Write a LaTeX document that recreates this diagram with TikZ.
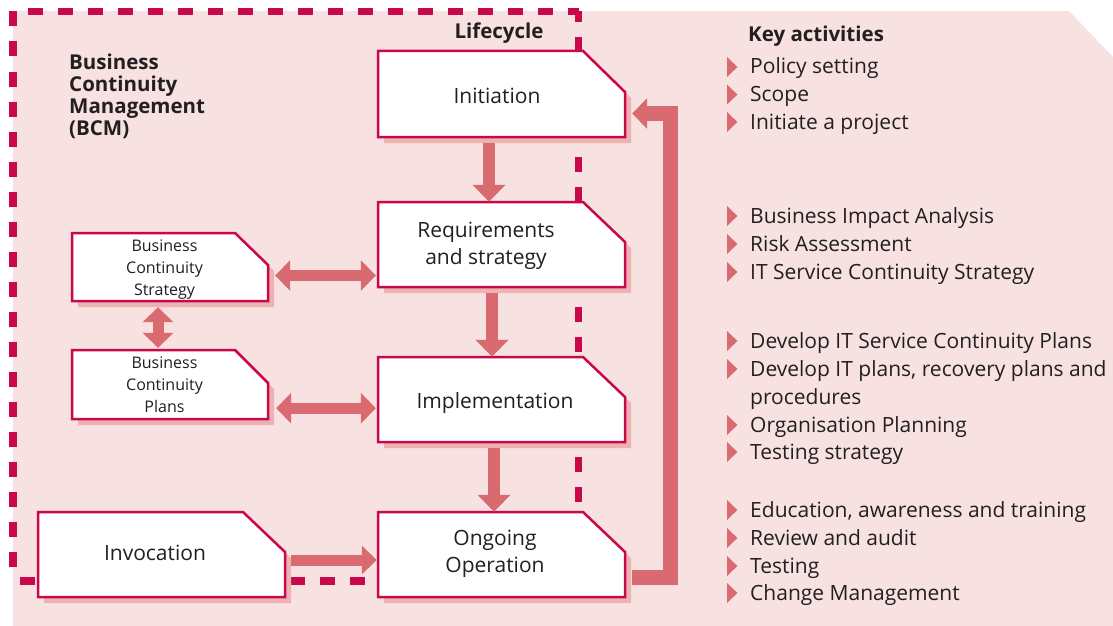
\documentclass[tikz,border=0pt]{standalone}
\usepackage{fontspec}
\setmainfont{Open Sans}
\usetikzlibrary{arrows.meta}
\definecolor{bgpink}{RGB}{247,225,225}
\definecolor{crim}{RGB}{200,8,74}
\definecolor{arrc}{RGB}{217,107,112}
\definecolor{shad}{RGB}{238,178,178}
\definecolor{txt}{RGB}{35,31,32}
\tikzset{
  boxline/.style={draw=crim, line width=2.5pt, fill=white, line join=miter},
  shadowfill/.style={fill=shad},
  boxnode/.style={inner sep=0pt, draw=none},
  bcmdash/.style={draw=crim, line width=7.5pt, dash pattern=on 15pt off 15pt},
  varrow/.style={draw=arrc, line width=12pt, -{Triangle[width=32pt,length=17pt]}},
  harrow/.style={draw=arrc, line width=11pt, {Triangle[width=30pt,length=15pt]}-{Triangle[width=30pt,length=15pt]}},
  iarrow/.style={draw=arrc, line width=11pt, -{Triangle[width=28pt,length=15pt]}},
  farrow/.style={draw=arrc, line width=15pt, line join=miter, -{Triangle[width=30pt,length=15pt]}},
  bigtext/.style={font=\fontsize{21}{27}\selectfont, text=txt, align=center, inner sep=0pt, anchor=base},
  smalltext/.style={font=\fontsize{16}{22}\selectfont, text=txt, align=center, inner sep=0pt, anchor=base},
  titletext/.style={font=\fontsize{20.5}{21.7}\selectfont\bfseries, text=txt, align=left, inner sep=0pt, anchor=base west},
  listtext/.style={font=\fontsize{21}{28}\selectfont, text=txt, inner sep=0pt, anchor=base west},
  bulletmark/.style={fill=arrc}
}
% #1 name, #2 x1, #3 y1, #4 x2, #5 y2, #6 corner dx, #7 corner dy
\newcommand\cutbox[7]{%
  \fill[shadowfill] (#2+6,#3+6) -- (#4-#6+6,#3+6) -- (#4+6,#3+#7+6) -- (#4+6,#5+6) -- (#2+6,#5+6) -- cycle;
  \path[boxline] (#2,#3) -- (#4-#6,#3) -- (#4,#3+#7) -- (#4,#5) -- (#2,#5) -- cycle;
  \node[boxnode, minimum width={#4-#2}, minimum height={#5-#3}] (#1) at ({(#2+#4)/2},{(#3+#5)/2}) {};
}
\newcommand\bitem[3]{%
  \fill[bulletmark] (727,#2-17) -- (730,#2-14) -- (737.5,#2-7) -- (730,#2) -- (727,#2+3) -- cycle;
  \node[listtext] (#1) at (750,#2) {#3};
}
\begin{document}
\begin{tikzpicture}[x=1pt, y=-1pt]
\useasboundingbox (0,0) rectangle (1113,626);
\fill[white] (0,0) rectangle (1113,626);
\fill[bgpink] (13,11) -- (1069,11) -- (1113,57) -- (1113,626) -- (13,626) -- cycle;

% dashed BCM frame
\draw[bcmdash, dash phase=15pt] (13,11.5) -- (578.5,11.5);
\draw[bcmdash] (13,11.5) -- (13,581);
\draw[bcmdash, dash phase=23pt] (13,581) -- (578.5,581);
\draw[bcmdash, dash phase=4.5pt] (578.5,11.5) -- (578.5,581);

% boxes
\cutbox{init}{378}{51}{625}{137}{42}{41}
\cutbox{req}{378}{202}{625}{287}{42}{40}
\cutbox{impl}{378}{357}{625}{442}{42}{40}
\cutbox{ong}{378}{512}{625}{597}{42}{40}
\cutbox{bcs}{72}{233}{268}{301}{33}{32}
\cutbox{bcp}{72}{350}{268}{419}{33}{33}
\cutbox{inv}{38}{512}{285}{597}{42}{40}

% box texts (anchor = baseline of last line)
\node[bigtext] (init-t) at (497,103) {Initiation};
\node[bigtext] (req-t) at (486,264) {Requirements\\and strategy};
\node[bigtext] (impl-t) at (495,408) {Implementation};
\node[bigtext] (ong-t) at (495,572) {Ongoing\\Operation};
\node[bigtext] (inv-t) at (155,560) {Invocation};
\node[smalltext] (bcs-t) at (164.5,295) {Business\\Continuity\\Strategy};
\node[smalltext] (bcp-t) at (164.5,412) {Business\\Continuity\\Plans};

% arrows
\draw[varrow] ([shift={(-12.5,6)}]init.south) -- ([xshift=-12.5pt]req.north);
\draw[varrow] ([shift={(-9.5,6)}]req.south) -- ([xshift=-9.5pt]impl.north);
\draw[varrow] ([shift={(-7.5,6)}]impl.south) -- ([xshift=-7.5pt]ong.north);
\coordinate (hA) at ([shift={(7,8.5)}]bcs.east);
\draw[harrow] (hA) -- ([xshift=-2pt]req.west |- hA);
\coordinate (hB) at ([shift={(8,-11)}]bcp.south east);
\draw[harrow] (hB) -- ([xshift=-2pt]impl.west |- hB);
\draw[harrow] ([shift={(-12,6)}]bcs.south) -- ([shift={(-12,-2)}]bcp.north);
\coordinate (hC) at ([shift={(6,5.5)}]inv.east);
\draw[iarrow] (hC) -- ([xshift=-1pt]ong.west |- hC);
\coordinate (fbA) at ([shift={(7,23)}]ong.east);
\coordinate (fbB) at ([shift={(7,19.5)}]init.east);
\draw[farrow] (fbA) -- ++(38.5,0) |- (fbB);

% titles
\node[titletext] (bcm) at (69,135) {Business\\Continuity\\Management\\(BCM)};
\node[titletext, anchor=base] (life) at (499,39) {Lifecycle};
\node[titletext] (key) at (748,42) {Key activities};

% key activities
\bitem{a1}{74}{Policy setting}
\bitem{a2}{101.5}{Scope}
\bitem{a3}{129}{Initiate a project}
\bitem{b1}{223}{Business Impact Analysis}
\bitem{b2}{251}{Risk Assessment}
\bitem{b3}{279}{IT Service Continuity Strategy}
\bitem{c1}{348}{Develop IT Service Continuity Plans}
\bitem{c2}{376}{Develop IT plans, recovery plans and}
\node[listtext] (c2b) at (750,404) {procedures};
\bitem{c3}{432}{Organisation Planning}
\bitem{c4}{459}{Testing strategy}
\bitem{d1}{517}{Education, awareness and training}
\bitem{d2}{545}{Review and audit}
\bitem{d3}{573}{Testing}
\bitem{d4}{600}{Change Management}
\end{tikzpicture}
\end{document}
